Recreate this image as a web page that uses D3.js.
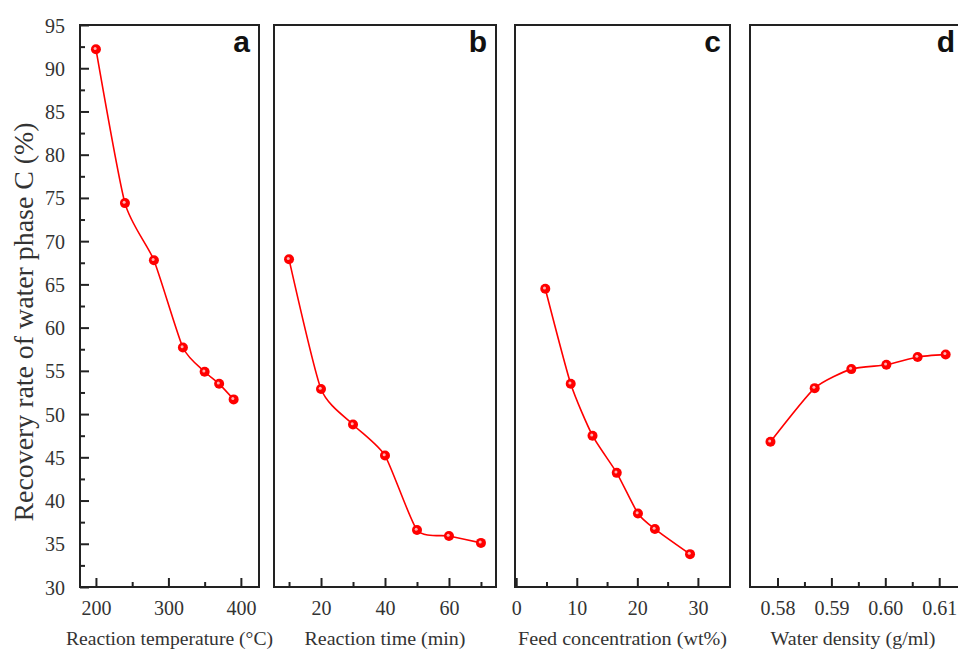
<!DOCTYPE html>
<html>
<head>
<meta charset="utf-8">
<script src="https://cdn.jsdelivr.net/npm/d3@7"></script>
<style>
  body { margin: 0; background: #fff; }
  svg { display: block; }
  text { font-family: "Liberation Serif", "Times New Roman", serif; fill: #222; }
</style>
</head>
<body>
<div id="chart_area"></div>
<script>
// DATA
var tempX = [200, 240, 280, 320, 350, 370, 390];
var tempY = [92.2, 74.4, 67.8, 57.7, 54.9, 53.5, 51.7];

var timeX = [10, 20, 30, 40, 50, 60, 70];
var timeY = [67.9, 52.9, 48.8, 45.2, 36.6, 35.9, 35.1];

var concX = [4.8, 9.0, 12.6, 16.6, 20.1, 22.9, 28.7];
var concY = [64.5, 53.5, 47.5, 43.2, 38.5, 36.7, 33.8];

var densX = [0.5787, 0.5869, 0.5937, 0.6002, 0.6060, 0.6112];
var densY = [46.8, 53.0, 55.2, 55.7, 56.6, 56.9];

var yMajor = [30, 35, 40, 45, 50, 55, 60, 65, 70, 75, 80, 85, 90, 95];
var yMinor = [32.5, 37.5, 42.5, 47.5, 52.5, 57.5, 62.5, 67.5, 72.5, 77.5, 82.5, 87.5, 92.5];

var panelLetters = ["a", "b", "c", "d"];
var xTitles = ["Reaction temperature (\u00B0C)", "Reaction time (min)", "Feed concentration (wt%)", "Water density (g/ml)"];
var xMajor = [[200, 300, 400], [20, 40, 60], [0, 10, 20, 30], [0.58, 0.59, 0.60, 0.61]];
var xMinor = [[250, 350], [10, 30, 50, 70], [5, 15, 25], [0.585, 0.595, 0.605]];
var xDomains = [[178, 425], [5.3, 74.7], [-0.2, 35.3], [0.5749, 0.6146]];
var xFormats = ["d", "d", "d", ".2f"];
var titleWidths = [207, 161, 209, 165];

// layout of each panel in pixels
var panelLeft = [80, 274, 515, 750];
var panelRight = [259, 496, 730, 964];
var plotTop = 25, plotBottom = 587;

var width = 958, height = 649;
var red = "#ff0000";

var svg = d3.select("#chart_area").append("svg")
    .attr("width", width)
    .attr("height", height);

// shared y scale
var y = d3.scaleLinear().domain([30, 95]).range([plotBottom, plotTop]);

var series = [
  {x: tempX, y: tempY},
  {x: timeX, y: timeY},
  {x: concX, y: concY},
  {x: densX, y: densY}
];

series.forEach(function(s, i) {
  var x = d3.scaleLinear().domain(xDomains[i]).range([panelLeft[i], panelRight[i]]);
  var pts = s.x.map(function(d, j) { return [d, s.y[j]]; });
  var g = svg.append("g");

  // bottom axis, ticks pointing inward
  var axMaj = g.append("g")
      .attr("transform", "translate(0," + plotBottom + ")")
      .call(d3.axisTop(x).tickValues(xMajor[i]).tickSize(9).tickFormat(d3.format(xFormats[i])))
      .attr("font-family", "Liberation Serif")
      .attr("font-size", 20);
  axMaj.select(".domain").remove();
  axMaj.selectAll("line").attr("stroke", "#222").attr("stroke-width", 2);
  axMaj.selectAll("text")
      .attr("y", 28)
      .attr("dy", 0)
      .attr("font-family", "Liberation Serif")
      .style("fill", "#333");

  var axMin = g.append("g")
      .attr("transform", "translate(0," + plotBottom + ")")
      .call(d3.axisTop(x).tickValues(xMinor[i]).tickSize(5).tickFormat(""));
  axMin.select(".domain").remove();
  axMin.selectAll("line").attr("stroke", "#222").attr("stroke-width", 2);

  // x axis title
  g.append("text")
      .attr("x", (panelLeft[i] + panelRight[i]) / 2 + (i == 3 ? -4 : 0))
      .attr("y", 645)
      .attr("text-anchor", "middle")
      .attr("textLength", titleWidths[i])
      .attr("lengthAdjust", "spacingAndGlyphs")
      .style("font-size", "19px")
      .style("fill", "#333")
      .text(xTitles[i]);

  // y axis only on the first panel
  if (i == 0) {
    var ay = g.append("g")
        .attr("transform", "translate(" + panelLeft[i] + ",0)")
        .call(d3.axisRight(y).tickValues(yMajor).tickSize(9).tickFormat(d3.format("d")))
        .attr("font-family", "Liberation Serif")
        .attr("font-size", 20);
    ay.select(".domain").remove();
    ay.selectAll("line").attr("stroke", "#222").attr("stroke-width", 2);
    ay.selectAll("text")
        .attr("x", -15)
        .attr("dy", "0.35em")
        .attr("text-anchor", "end")
        .attr("font-family", "Liberation Serif")
        .style("fill", "#333");

    var ay2 = g.append("g")
        .attr("transform", "translate(" + panelLeft[i] + ",0)")
        .call(d3.axisRight(y).tickValues(yMinor).tickSize(5).tickFormat(""));
    ay2.select(".domain").remove();
    ay2.selectAll("line").attr("stroke", "#222").attr("stroke-width", 2);
  }

  // the curve
  var line = d3.line()
      .x(function(d) { return x(d[0]); })
      .y(function(d) { return y(d[1]); })
      .curve(d3.curveCardinal.tension(0.4));

  g.append("path")
      .datum(pts)
      .attr("d", line)
      .attr("fill", "none")
      .attr("stroke", red)
      .attr("stroke-width", 1.6);

  // markers
  g.selectAll(".dot")
      .data(pts)
      .enter().append("circle")
      .attr("class", "dot")
      .attr("cx", function(d) { return x(d[0]); })
      .attr("cy", function(d) { return y(d[1]); })
      .attr("r", 5)
      .attr("fill", red);

  g.selectAll(".hl")
      .data(pts)
      .enter().append("circle")
      .attr("class", "hl")
      .attr("cx", function(d) { return x(d[0]) - 0.8; })
      .attr("cy", function(d) { return y(d[1]) - 0.8; })
      .attr("r", 1.5)
      .attr("fill", "#ffb3b3");

  // frame
  g.append("rect")
      .attr("x", panelLeft[i])
      .attr("y", plotTop)
      .attr("width", panelRight[i] - panelLeft[i])
      .attr("height", plotBottom - plotTop)
      .attr("fill", "none")
      .attr("stroke", "#222")
      .attr("stroke-width", 2);

  // panel letter
  g.append("text")
      .attr("x", panelRight[i] - 9)
      .attr("y", 52)
      .attr("text-anchor", "end")
      .style("font-family", "'Liberation Sans', Arial, sans-serif")
      .style("font-weight", "bold")
      .style("font-size", "30px")
      .style("fill", "#111")
      .text(panelLetters[i]);
});

// y axis title
svg.append("text")
    .attr("transform", "translate(33,322) rotate(-90)")
    .attr("text-anchor", "middle")
    .attr("textLength", 399)
    .attr("lengthAdjust", "spacingAndGlyphs")
    .style("font-size", "27px")
    .style("fill", "#333")
    .text("Recovery rate of water phase C (%)");
</script>
</body>
</html>
